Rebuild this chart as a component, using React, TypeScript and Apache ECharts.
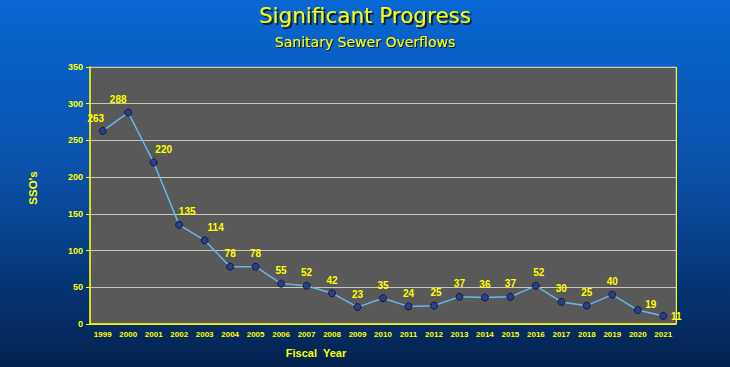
import React, { useEffect, useRef } from "react";
import * as echarts from "echarts";

const years = ["1999","2000","2001","2002","2003","2004","2005","2006","2007","2008","2009","2010","2011","2012","2013","2014","2015","2016","2017","2018","2019","2020","2021"];
const ssoCounts = [263, 288, 220, 135, 114, 78, 78, 55, 52, 42, 23, 35, 24, 25, 37, 36, 37, 52, 30, 25, 40, 19, 11];
const yTicks = { min: 0, max: 350, interval: 50 };

const titleText = "Significant Progress";
const subtitleText = "Sanitary Sewer Overflows";
const yName = "SSO's";
const xName = "Fiscal  Year";

// label nudges (style only)
const labelShift: Record<number, [number, number]> = {
  0: [-7, 1],
  1: [-10, 0],
  2: [10, 0],
  3: [8, 0],
  4: [11, 0],
  13: [2, 0],
  17: [3, 0],
  21: [13, 7],
  22: [13, 14],
};

const YELLOW = "#ffff00";
const SHADOW = "#0a1a33";

export default function App() {
  const ref = useRef<HTMLDivElement>(null);
  useEffect(() => {
    if (!ref.current) return;
    const chart = echarts.init(ref.current, undefined, { renderer: "svg" });
    chart.setOption({
      animation: false,
      backgroundColor: new echarts.graphic.LinearGradient(0, 0, 0, 1, [
        { offset: 0, color: "#0868d4" },
        { offset: 0.5, color: "#0a4ea4" },
        { offset: 1, color: "#02224f" },
      ]),
      textStyle: { fontFamily: "Liberation Sans" },
      title: [
        {
          text: titleText, left: "center", top: 4, padding: 0,
          textStyle: { color: YELLOW, fontFamily: "DejaVu Sans", fontSize: 21.5, fontWeight: "normal", textShadowColor: SHADOW, textShadowOffsetX: 2, textShadowOffsetY: 2, textShadowBlur: 1 },
        },
        {
          text: subtitleText, left: "center", top: 35, padding: 0,
          textStyle: { color: YELLOW, fontFamily: "DejaVu Sans", fontSize: 14, fontWeight: "normal", textShadowColor: SHADOW, textShadowOffsetX: 1, textShadowOffsetY: 1, textShadowBlur: 1 },
        },
      ],
      grid: { left: 90, right: 54, top: 67, bottom: 43, show: true, backgroundColor: "#595959", borderColor: "#9a9a90", borderWidth: 1 },
      graphic: [
        {
          type: "text", x: 33, y: 188, rotation: Math.PI / 2,
          style: { text: yName, fill: YELLOW, font: "bold 11.5px 'Liberation Sans'", align: "center", verticalAlign: "middle" },
        },
        {
          type: "text", x: 316, y: 353,
          style: { text: xName, fill: YELLOW, font: "bold 11px 'Liberation Sans'", align: "center", verticalAlign: "middle" },
        },
        {
          type: "line", shape: { x1: 676.5, y1: 67, x2: 676.5, y2: 324 },
          style: { stroke: YELLOW, lineWidth: 1 },
        },
      ],
      xAxis: {
        type: "category",
        data: years,
        boundaryGap: true,
        axisLine: { lineStyle: { color: YELLOW, width: 1.5 } },
        axisTick: { inside: true, length: 3, lineStyle: { color: YELLOW } },
        axisLabel: { color: YELLOW, fontSize: 8, fontWeight: "bold", margin: 6, interval: 0 },
        splitLine: { show: false },
      },
      yAxis: {
        type: "value",
        min: yTicks.min, max: yTicks.max, interval: yTicks.interval,
        axisLine: { show: true, lineStyle: { color: YELLOW, width: 1.5 } },
        axisTick: { show: true, length: 4, lineStyle: { color: YELLOW } },
        axisLabel: { color: YELLOW, fontSize: 9, fontWeight: "bold", margin: 7 },
        splitLine: { lineStyle: { color: "#c8c8bc", width: 1 } },
      },
      series: [
        {
          type: "line",
          data: ssoCounts.map((v, i) => {
            const s = labelShift[i];
            return s ? { value: v, label: { offset: s } } : v;
          }),
          lineStyle: { color: "#62b8ea", width: 1.5 },
          symbol: "circle",
          symbolSize: 7,
          itemStyle: { color: "#2b3f86", borderColor: "#101a40", borderWidth: 1 },
          label: { show: true, position: "top", distance: 4, color: YELLOW, fontSize: 10, fontWeight: "bold" },
        },
      ],
    });
    return () => chart.dispose();
  }, []);
  return <div ref={ref} style={{ position: "fixed", left: 0, top: 0, width: 730, height: 367 }} />;
}
